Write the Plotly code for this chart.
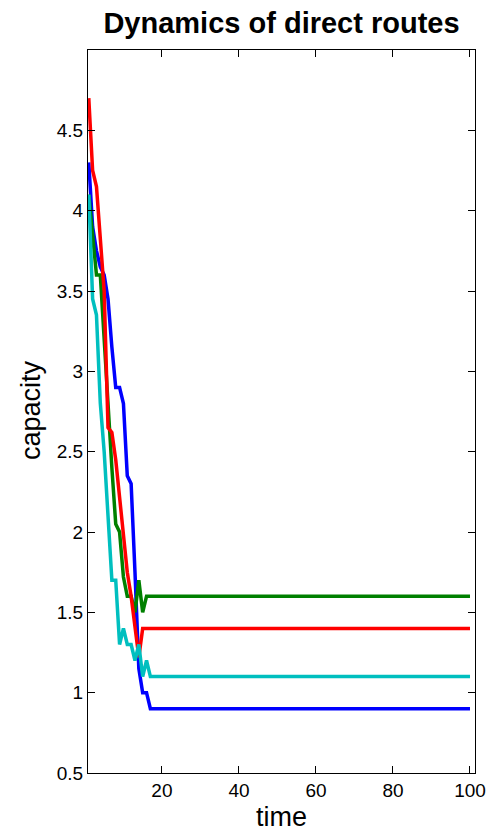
import plotly.graph_objects as go

# time steps
time = list(range(1, 101))

# capacity of each direct route over the first steps, then its settled level
blue_head = [4.3, 3.9, 3.75, 3.65, 3.6, 3.45, 3.15, 2.9, 2.9, 2.8,
             2.35, 2.3, 1.75, 1.15, 1.0, 1.0]
blue_level = 0.9

green_head = [4.1, 3.85, 3.6, 3.6, 3.2, 2.75, 2.4, 2.05, 2.0, 1.72,
              1.6, 1.6, 1.5, 1.7, 1.5]
green_level = 1.6

red_head = [4.7, 4.25, 4.15, 3.85, 3.5, 2.65, 2.62, 2.45, 2.2, 1.95,
            1.75, 1.6, 1.4, 1.22]
red_level = 1.4

cyan_head = [4.1, 3.45, 3.35, 2.8, 2.5, 2.1, 1.7, 1.7, 1.3, 1.4,
             1.3, 1.3, 1.2, 1.3, 1.1, 1.2]
cyan_level = 1.1


def full_series(head, level):
    return head + [level] * (len(time) - len(head))


series = [
    (full_series(blue_head, blue_level), "#0000FF"),
    (full_series(green_head, green_level), "#008000"),
    (full_series(red_head, red_level), "#FF0000"),
    (full_series(cyan_head, cyan_level), "#00BFBF"),
]

x_ticks = [20, 40, 60, 80, 100]
y_ticks = [0.5, 1, 1.5, 2, 2.5, 3, 3.5, 4, 4.5]

fig = go.Figure()
for values, color in series:
    fig.add_trace(go.Scatter(x=time, y=values, mode="lines",
                             line=dict(color=color, width=3.5),
                             showlegend=False, hoverinfo="skip"))

font = "Liberation Sans, Arial, Helvetica, sans-serif"
axis_common = dict(
    showgrid=False, zeroline=False, showline=True, linecolor="black",
    linewidth=1, mirror="ticks", ticks="inside", ticklen=7,
    tickcolor="black", tickwidth=1, automargin=False,
    tickfont=dict(family=font, size=19, color="black"),
)

W, H = 489, 834
ML, MR, MT, MB = 88, 14, 50, 61
plot_w, plot_h = W - ML - MR, H - MT - MB

fig.update_layout(
    width=W, height=H,
    margin=dict(l=ML, r=MR, t=MT, b=MB),
    paper_bgcolor="white", plot_bgcolor="white",
    title=dict(text="<b>Dynamics of direct routes</b>",
               font=dict(family=font, size=29, color="black"),
               x=0.5, xref="paper", xanchor="center",
               y=1 - 23 / H, yref="container", yanchor="middle"),
    xaxis=dict(range=[0.8, 101.3], tickvals=x_ticks, **axis_common),
    yaxis=dict(range=[0.5, 5.0], tickvals=y_ticks,
               ticktext=[f"{v:g}" for v in y_ticks], **axis_common),
    annotations=[
        # axis labels placed in paper coordinates
        dict(text="time", x=0.5, xref="paper", xanchor="center",
             y=(H - MB - 817) / plot_h, yref="paper", yanchor="middle",
             showarrow=False,
             font=dict(family=font, size=27, color="black")),
        dict(text="capacity", textangle=-90,
             x=(31 - ML) / plot_w, xref="paper", xanchor="center",
             y=(H - MB - 410) / plot_h, yref="paper", yanchor="middle",
             showarrow=False,
             font=dict(family=font, size=27, color="black")),
    ],
)

fig.write_html("out.html")
